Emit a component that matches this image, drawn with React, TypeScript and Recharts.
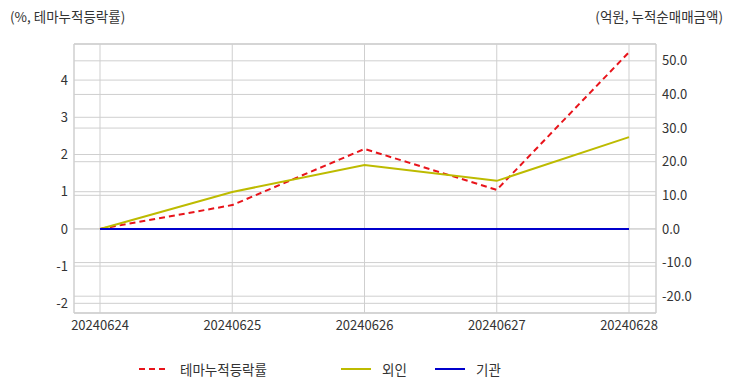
import React from "react";
import {
  LineChart,
  Line,
  XAxis,
  YAxis,
  CartesianGrid,
  ReferenceLine,
  Legend,
} from "recharts";

const dates = ["20240624", "20240625", "20240626", "20240627", "20240628"];
const themeRate = [0, 0.64, 2.15, 1.05, 4.75];
const foreign = [0, 11.0, 19.0, 14.3, 27.3];
const institution = [0, 0, 0, 0, 0];

const leftTicks = [-2, -1, 0, 1, 2, 3, 4];
const rightTicks = [-20, -10, 0, 10, 20, 30, 40, 50];

const data = dates.map((d, i) => ({
  date: d,
  theme: themeRate[i],
  foreign: foreign[i],
  inst: institution[i],
}));

const FONT = "'Noto Sans CJK KR', 'Noto Sans', sans-serif";
const GRID = "#cfcfcf";
const TICK = { fontSize: 13, fill: "#333", fontFamily: FONT };

const legendItems = [
  { label: "테마누적등락률", color: "#e8141b", dash: "6 4", x: 139 },
  { label: "외인", color: "#bdbb00", dash: undefined, x: 341 },
  { label: "기관", color: "#0000cc", dash: undefined, x: 435 },
];

function ChartLegend() {
  return (
    <div style={{ position: "relative", width: 732, height: 24 }}>
      {legendItems.map((it) => (
        <div
          key={it.label}
          style={{ position: "absolute", left: it.x, top: 0, display: "flex", alignItems: "center", height: 24 }}
        >
          <svg width={30} height={4} style={{ display: "block" }}>
            <line x1={0} y1={2} x2={30} y2={2} stroke={it.color} strokeWidth={2} strokeDasharray={it.dash} />
          </svg>
          <span style={{ marginLeft: 11, fontSize: 13.5, color: "#333", fontFamily: FONT }}>{it.label}</span>
        </div>
      ))}
    </div>
  );
}

export default function App() {
  return (
    <div style={{ position: "absolute", left: 0, top: 0, width: 732, height: 392, background: "#fff" }}>
      <div style={{ position: "absolute", left: 10, top: 6, fontSize: 13.5, color: "#333", fontFamily: FONT }}>
        (%, 테마누적등락률)
      </div>
      <div style={{ position: "absolute", right: 9, top: 6, fontSize: 13.5, color: "#333", fontFamily: FONT }}>
        (억원, 누적순매매금액)
      </div>
      <LineChart
        width={732}
        height={392}
        data={data}
        margin={{ top: 44, right: 0, bottom: 0, left: 0 }}
      >
        <CartesianGrid yAxisId="left" stroke={GRID} vertical={true} horizontal={true} />
        <CartesianGrid yAxisId="right" stroke={GRID} vertical={false} horizontal={true} />
        <XAxis
          dataKey="date"
          height={55}
          padding={{ left: 26, right: 27 }}
          tick={TICK}
          tickLine={false}
          axisLine={{ stroke: GRID }}
          tickMargin={2}
          interval={0}
        />
        <YAxis
          yAxisId="left"
          orientation="left"
          width={74}
          domain={[-2.26, 4.97]}
          ticks={leftTicks}
          allowDataOverflow
          tick={TICK}
          tickLine={false}
          tickMargin={0}
          axisLine={{ stroke: GRID }}
        />
        <YAxis
          yAxisId="right"
          orientation="right"
          width={76}
          domain={[-25, 55]}
          ticks={rightTicks}
          allowDataOverflow
          tickFormatter={(v) => Number(v).toFixed(1)}
          tick={TICK}
          tickLine={false}
          tickMargin={0}
          axisLine={{ stroke: GRID }}
        />
        <ReferenceLine yAxisId="right" y={55} stroke={GRID} />
        <Legend
          verticalAlign="bottom"
          content={() => <ChartLegend />}
          wrapperStyle={{ position: "absolute", left: 0, top: 357, width: 732 }}
        />
        <Line
          yAxisId="left"
          dataKey="theme"
          name="테마누적등락률"
          stroke="#e8141b"
          strokeWidth={2}
          strokeDasharray="6 4"
          dot={false}
          isAnimationActive={false}
        />
        <Line
          yAxisId="right"
          dataKey="foreign"
          name="외인"
          stroke="#bdbb00"
          strokeWidth={2}
          dot={false}
          isAnimationActive={false}
        />
        <Line
          yAxisId="right"
          dataKey="inst"
          name="기관"
          stroke="#0000cc"
          strokeWidth={2}
          dot={false}
          isAnimationActive={false}
        />
      </LineChart>
    </div>
  );
}
